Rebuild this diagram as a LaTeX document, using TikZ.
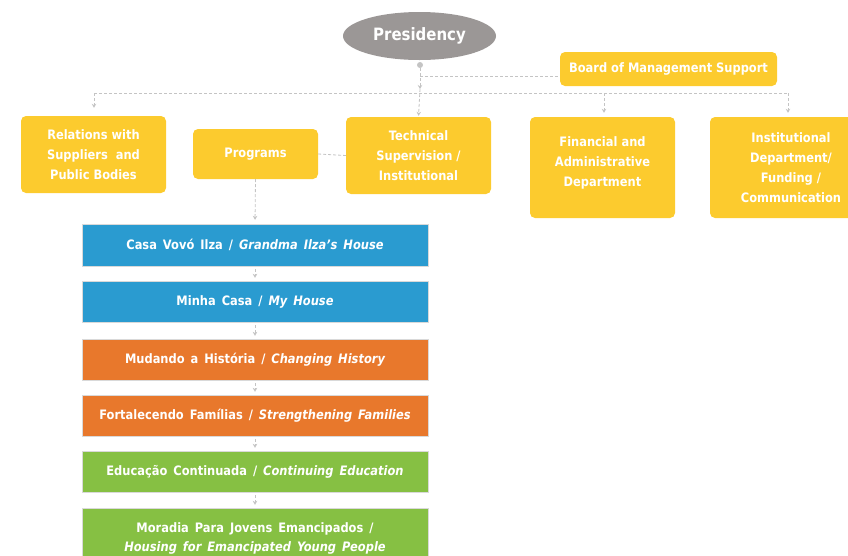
\documentclass[tikz,border=0pt]{standalone}
\usepackage{fontspec}
\setmainfont{DejaVu Sans}[FakeStretch=0.88]
\usetikzlibrary{arrows.meta,shapes.geometric}
\definecolor{yel}{HTML}{FCCB2E}
\definecolor{blu}{HTML}{2A9BD0}
\definecolor{ora}{HTML}{E8782C}
\definecolor{grn}{HTML}{86C043}
\definecolor{gry}{HTML}{9B9796}
\definecolor{lnc}{HTML}{C4C4C4}
\begin{document}
\begin{tikzpicture}[x=1pt,y=-1pt,
  ybox/.style={fill=yel, rounded corners=5pt, text=white, align=center,
    font=\bfseries\fontsize{13}{20}\selectfont, inner sep=0pt},
  pbox/.style={draw=white!85!black, line width=0.4pt, text=white, align=center,
    minimum width=346pt, font=\bfseries\fontsize{13}{19}\selectfont, inner sep=0pt,
    execute at begin node={\spaceskip=0.46em\relax}},
  conn/.style={draw=lnc, line width=0.8pt, dash pattern=on 3pt off 2pt,
    -{Stealth[length=4pt,width=4.5pt]}},
  dl/.style={draw=lnc, line width=0.8pt, dash pattern=on 3pt off 2pt}]
\useasboundingbox (0,0) rectangle (848,555);
\clip (0,0) rectangle (848,555);

% top
\node[ellipse, fill=gry, minimum width=153pt, minimum height=48pt, inner sep=0pt,
  text=white, font=\bfseries\fontsize{17}{22}\selectfont] (pres) at (419.5,36) {Presidency};
\node[circle, fill=lnc, minimum size=6pt, inner sep=0pt] (dot) at (420,65) {};
\node[ybox, minimum width=217pt, minimum height=34pt] (board) at (668.5,69) {Board of Management Support};

% department row
\node[ybox, minimum width=145pt, minimum height=77pt] (rel) at (93.5,154.5) {Relations with\\Suppliers~ and\\Public Bodies};
\node[ybox, minimum width=125pt, minimum height=50pt] (prog) at (255.5,154) {Programs};
\node[ybox, minimum width=145pt, minimum height=77pt] (tech) at (418.5,155.5) {Technical\\Supervision /\\Institutional};
\node[ybox, minimum width=145pt, minimum height=101pt] (fin) at (602.5,167.5) {Financial and\\Administrative\\Department\\[-8pt]\mbox{}};
\node[ybox, minimum width=162pt, minimum height=101pt] (inst) at (791,167.5) {Institutional\\Department/\\Funding /\\Communication};

% program boxes
\node[pbox, fill=blu, minimum height=42pt] (casa) at (255,245) {Casa Vovó Ilza / \itshape Grandma Ilza’s House};
\node[pbox, fill=blu, minimum height=41pt] (minha) at (255,301.5) {Minha Casa / \itshape My House};
\node[pbox, fill=ora, minimum height=41pt] (mud) at (255,359.5) {Mudando a História / \itshape Changing History};
\node[pbox, fill=ora, minimum height=41pt] (fort) at (255,415.5) {Fortalecendo Famílias / \itshape Strengthening Families};
\node[pbox, fill=grn, minimum height=41pt] (edu) at (255,471.5) {Educação Continuada / \itshape Continuing Education};
\node[pbox, fill=grn, minimum height=60pt] (mor) at (255,538) {Moradia Para Jovens Emancipados /\\\itshape Housing for Emancipated Young People};

% connectors
\coordinate (j1) at (420,89);
\coordinate (b0) at (420,76);
\coordinate (busL) at (94,93);
\coordinate (busR) at (788,93);
\coordinate (busF) at (604,93);
\draw[conn] (dot) -- (j1);
\draw[conn, shorten >=1pt] (j1) -- (tech.north);
\draw[dl] (b0) -- (b0 -| board.west);
\draw[dl] (busL) -- (busR);
\draw[conn, shorten >=8pt] (busL) -- (busL |- rel.north);
\draw[conn, shorten >=4pt] (busF) -- (busF |- fin.north);
\draw[conn, shorten >=4pt] (busR) -- (busR |- inst.north);
\draw[dl] (prog.east) -- (tech.west);
\draw[conn, shorten >=4pt] (prog.south) -- (casa.north);
\foreach \a/\b in {casa/minha, minha/mud, mud/fort, fort/edu, edu/mor}
  \draw[conn, line width=0.5pt, shorten <=3pt, shorten >=3pt] (\a.south) -- (\b.north);
\end{tikzpicture}
\end{document}
